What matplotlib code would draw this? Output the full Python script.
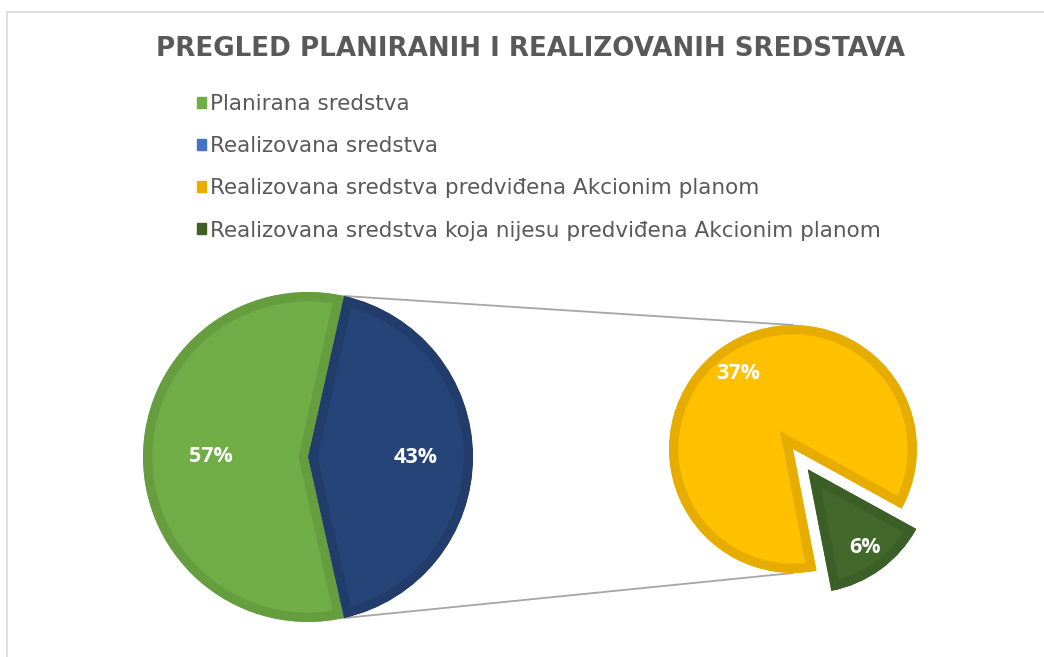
import matplotlib
matplotlib.use("Agg")
from matplotlib import pyplot as plt
import matplotlib.patches as mpatches
import numpy as np

title = "PREGLED PLANIRANIH I REALIZOVANIH SREDSTAVA"
main_labels = ["Planirana sredstva", "Realizovana sredstva"]
main_vals = [57, 43]
sub_labels = ["Realizovana sredstva predviđena Akcionim planom",
              "Realizovana sredstva koja nijesu predviđena Akcionim planom"]
sub_vals = [37, 6]
pct_main = ["57%", "43%"]
pct_sub = ["37%", "6%"]

main_fill = ["#70AD47", "#264478"]
main_edge = ["#659D3F", "#223D6C"]
sub_fill = ["#FFC000", "#43682B"]
sub_edge = ["#E6AD00", "#3C5E27"]
legend_cols = ["#70AD47", "#4472C4", "#E6AE00", "#3F5F27"]

W, H = 1044, 657
fig = plt.figure(figsize=(W / 100, H / 100), dpi=100)
ax = fig.add_axes([0, 0, 1, 1])

# chart border
ax.add_patch(mpatches.Rectangle((7, -20), W + 20, H - 12 + 20, fill=False,
                                edgecolor="#D9D9D9", linewidth=1.2))

def inner_stroke(wedges, edges):
    # stroke drawn only inside each slice, like Excel
    for w, ec in zip(wedges, edges):
        w.set_edgecolor(ec)
        w.set_linewidth(13.5)
        w.set_joinstyle("miter")
        w.set_clip_on(True)
        w.set_clip_path(w)

# main pie
c1 = (308, H - 457)
r1 = 165
start1 = main_vals[1] / sum(main_vals) * 180
w1, _ = ax.pie(main_vals, colors=main_fill, center=c1, radius=r1,
               startangle=start1, counterclock=True, frame=True)
inner_stroke(w1, main_edge)

# secondary pie
c2 = (793, H - 449)
r2 = 124
start2 = -28.8
w2, _ = ax.pie(sub_vals, colors=sub_fill, center=c2, radius=r2,
               startangle=start2, counterclock=True, explode=[0, 25], frame=True)
inner_stroke(w2, sub_edge)

ax.set_xlim(0, W)
ax.set_ylim(0, H)
ax.set_aspect("equal")
ax.axis("off")

# connector lines
th = np.deg2rad(start1)
for s in (1, -1):
    ax.plot([c1[0] + r1 * np.cos(th), c2[0]],
            [c1[1] + s * r1 * np.sin(th), c2[1] + s * r2],
            color="#A6A6A6", linewidth=1.3, zorder=0.5)

# percent labels
def put_labels(wedges, texts, dists):
    for w, t, d in zip(wedges, texts, dists):
        a = np.deg2rad((w.theta1 + w.theta2) / 2)
        cx, cy = w.center
        ax.text(cx + d * w.r * np.cos(a), cy + d * w.r * np.sin(a), t,
                color="white", fontsize=15.5, fontweight="bold",
                family=["Open Sans", "DejaVu Sans"], ha="center", va="center")

put_labels(w1, pct_main, [0.59, 0.65])
put_labels(w2, pct_sub, [0.75, 0.78])

# title
fig.text(531 / W, 1 - 49 / H, title, ha="center", va="center",
         fontsize=18.8, fontweight="bold", color="#595959",
         family=["DejaVu Sans"])

# legend
handles = [mpatches.Patch(color=c) for c in legend_cols]
leg = fig.legend(handles, main_labels + sub_labels, loc="upper left",
                 bbox_to_anchor=(197 / W, 1 - 94 / H), frameon=False,
                 handlelength=0.42, handleheight=0.42, handletextpad=0.2,
                 labelspacing=1.03, borderpad=0, borderaxespad=0,
                 prop={"family": ["DejaVu Sans"], "size": 15.5})
for t in leg.get_texts():
    t.set_color("#595959")

fig.savefig("out.png", dpi=100)
